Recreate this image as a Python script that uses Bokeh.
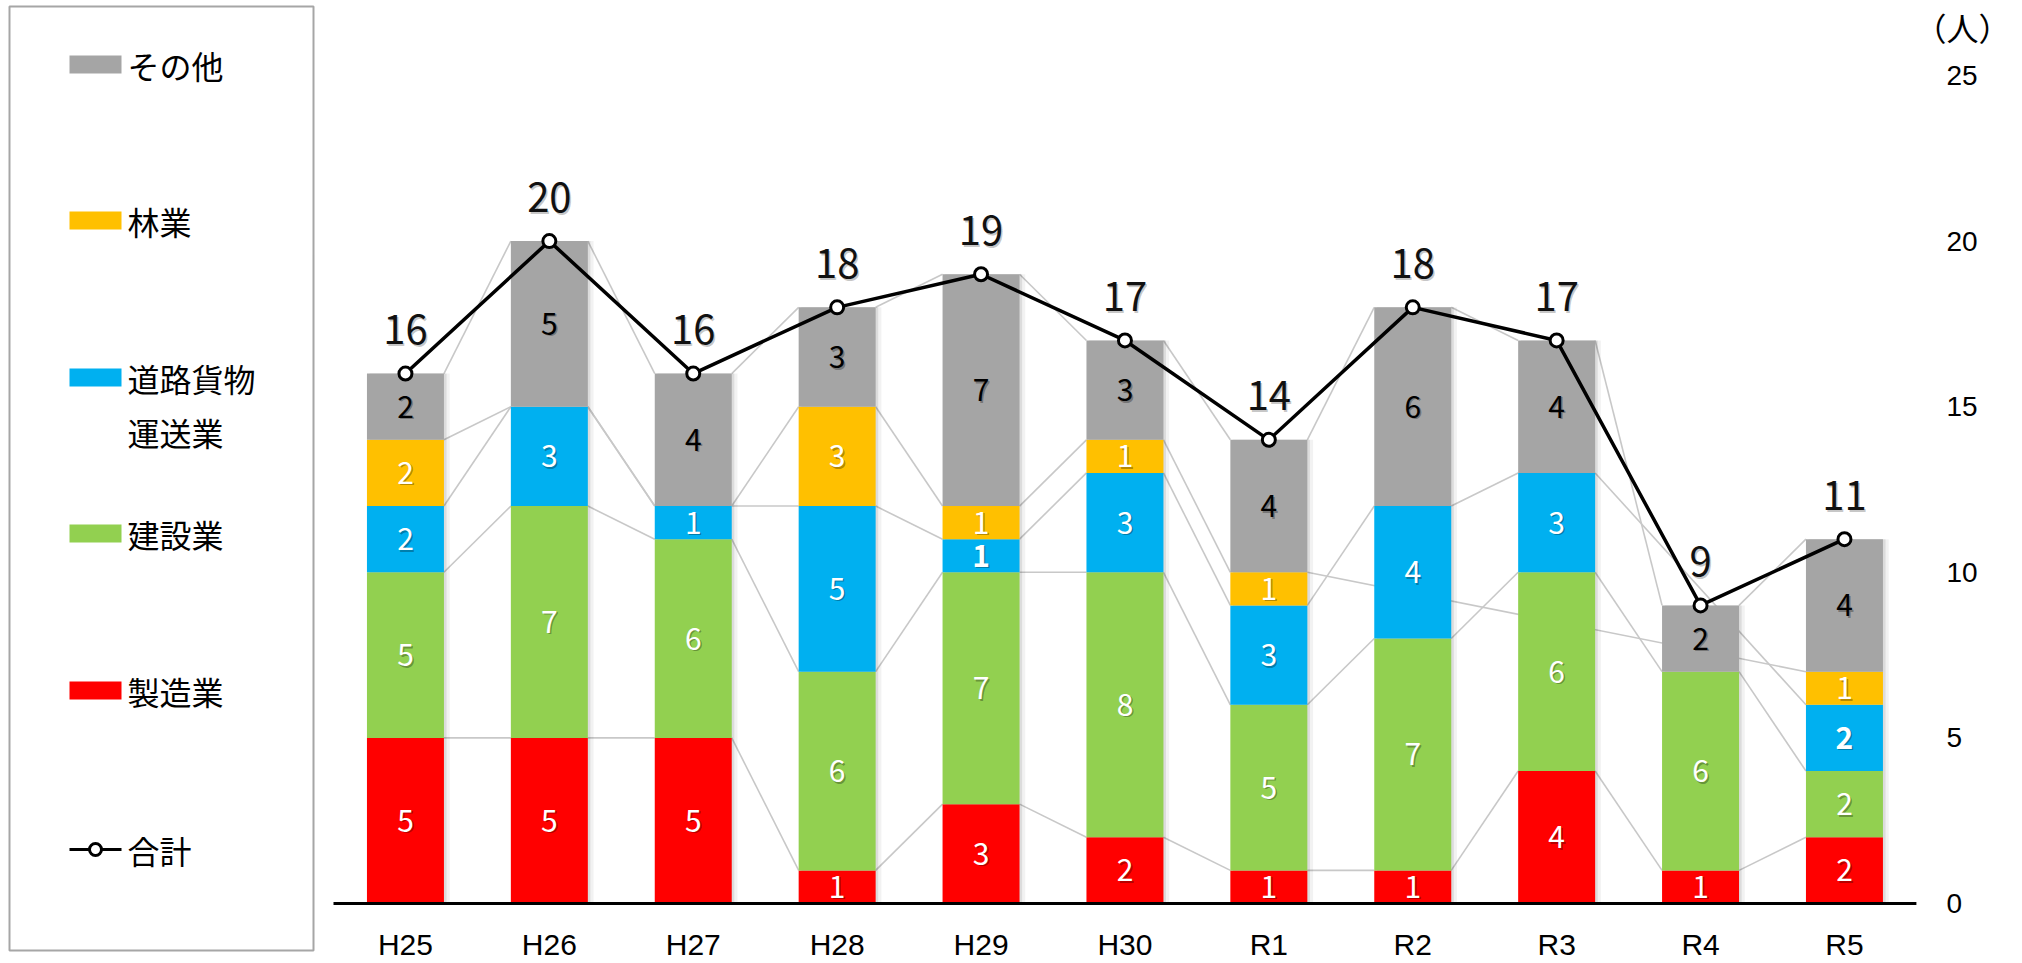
from bokeh.plotting import figure
from bokeh.models import ColumnDataSource, Range1d
from bokeh.embed import file_html
from bokeh.resources import INLINE
from bokeh.core.properties import value

# ---------------- data ----------------
categories = ["H25", "H26", "H27", "H28", "H29", "H30", "R1", "R2", "R3", "R4", "R5"]
manufacturing = [5, 5, 5, 1, 3, 2, 1, 1, 4, 1, 2]            # 製造業
construction = [5, 7, 6, 6, 7, 8, 5, 7, 6, 6, 2]             # 建設業
road_freight = [2, 3, 1, 5, 1, 3, 3, 4, 3, None, 2]          # 道路貨物運送業
forestry = [2, 0, 0, 3, 1, 1, 1, None, None, None, 1]        # 林業
other = [2, 5, 4, 3, 7, 3, 4, 6, 4, 2, 4]                    # その他
totals = [16, 20, 16, 18, 19, 17, 14, 18, 17, 9, 11]         # 合計
ytick_values = [0, 5, 10, 15, 20, 25]
unit_label = "（人）"

series_names = ["製造業", "建設業", "道路貨物運送業", "林業", "その他"]
series_values = [manufacturing, construction, road_freight, forestry, other]
series_colors = ["#ff0000", "#92d050", "#00b0f0", "#ffc000", "#a5a5a5"]
label_colors = ["white", "white", "white", "white", "black"]
total_name = "合計"

FONT = "Noto Sans CJK JP"
LATIN = "Liberation Sans"
W = 0.535            # bar width (fraction of a category slot)
FIG_W, FIG_H = 2022, 963
X0_PX, SLOT_PX = 333, 143.9        # left edge of plotting area, width of one category
Y0_PX, UNIT_PX = 903, 33.12        # baseline pixel row, pixels per person

n = len(categories)
xc = [i + 0.5 for i in range(n)]

# ---------------- stacking ----------------
cum = [0] * n
rects = dict(x=[], bottom=[], top=[], color=[])
labs = dict(x=[], y=[], text=[], color=[], style=[])
series_tops = []
for s, vals in enumerate(series_values):
    tops = []
    for i, v in enumerate(vals):
        v0 = v or 0
        b = cum[i]
        t = b + v0
        if v0 > 0:
            rects["x"].append(xc[i]); rects["bottom"].append(b)
            rects["top"].append(t); rects["color"].append(series_colors[s])
            labs["x"].append(xc[i]); labs["y"].append((b + t) / 2)
            labs["text"].append(str(v0)); labs["color"].append(label_colors[s])
            bold = (s == 2 and categories[i] in ("H29", "R5"))
            labs["style"].append("bold" if bold else "normal")
        cum[i] = t
        tops.append(t)
    series_tops.append(tops)

# series lines (connect tops of each series between neighbouring bars, skipping blanks)
seg = dict(x0=[], y0=[], x1=[], y1=[])
for s, vals in enumerate(series_values):
    valid = [i for i, v in enumerate(vals) if v is not None]
    for a, b in zip(valid[:-1], valid[1:]):
        seg["x0"].append(xc[a] + W / 2); seg["y0"].append(series_tops[s][a])
        seg["x1"].append(xc[b] - W / 2); seg["y1"].append(series_tops[s][b])

# ---------------- figure ----------------
x_start = -X0_PX / SLOT_PX
x_end = (FIG_W - X0_PX) / SLOT_PX
y_start = -(FIG_H - Y0_PX) / UNIT_PX
y_end = Y0_PX / UNIT_PX

p = figure(width=FIG_W, height=FIG_H,
           x_range=Range1d(x_start, x_end), y_range=Range1d(y_start, y_end),
           x_axis_location=None, y_axis_location=None, min_border=0,
           output_backend="svg", toolbar_location=None,
           background_fill_color="white", border_fill_color="white")
p.title = None
p.outline_line_color = None
p.grid.grid_line_color = None
p.extra_x_ranges = {"px": Range1d(0, FIG_W)}
p.extra_y_ranges = {"py": Range1d(FIG_H, 0)}

# series lines
p.segment(x0="x0", y0="y0", x1="x1", y1="y1", source=ColumnDataSource(seg),
          line_color="#c8c8c8", line_width=1.6)

# soft bar shadows
tot_src = ColumnDataSource(dict(x=xc, top=totals, text=[str(t) for t in totals]))
p.vbar(x=[x + 0.03 for x in xc], top=totals, bottom=0, width=W + 0.02,
       fill_color="black", fill_alpha=0.05, line_color=None)
p.vbar(x=[x + 0.018 for x in xc], top=totals, bottom=0, width=W, fill_color="black",
       fill_alpha=0.09, line_color=None)

# stacked bars
p.vbar(x="x", bottom="bottom", top="top", width=W, fill_color="color", line_color=None,
       source=ColumnDataSource(rects))

# segment labels
lab_src = ColumnDataSource(labs)
p.text(x="x", y="y", text="text", source=lab_src, x_offset=1.5, y_offset=1.5,
       text_color="black", text_alpha=0.3, text_font=value(FONT), text_font_size="30px",
       text_font_style="style", text_align="center", text_baseline="middle")
p.text(x="x", y="y", text="text", source=lab_src, text_color="color",
       text_font=value(FONT), text_font_size="30px", text_font_style="style",
       text_align="center", text_baseline="middle")

# baseline (category axis line)
p.segment(x0=[0], y0=[0], x1=[n], y1=[0], line_color="black", line_width=3)

# total line
p.line(x="x", y="top", source=tot_src, line_color="black", line_width=3.5)
p.scatter(x="x", y="top", source=tot_src, marker="circle", size=13,
          fill_color="white", line_color="black", line_width=3)
p.text(x="x", y="top", text="text", source=tot_src, y_offset=-42, x_offset=1.5,
       text_color="black", text_alpha=0.22, text_font=value(FONT), text_font_size="40px",
       text_align="center", text_baseline="middle")
p.text(x="x", y="top", text="text", source=tot_src, y_offset=-44,
       text_color="#111111", text_font=value(FONT), text_font_size="40px",
       text_align="center", text_baseline="middle")

# category tick labels
p.text(x=xc, y=[0] * n, text=categories, y_offset=41, text_font=value(LATIN),
       text_font_size="30px", text_color="black", text_align="center",
       text_baseline="middle")

# value axis tick labels (right)
p.text(x=[n] * len(ytick_values), y=ytick_values, text=[str(v) for v in ytick_values],
       x_offset=30, text_font=value(LATIN), text_font_size="28px", text_color="black",
       text_align="left", text_baseline="middle")
p.text(x=[n], y=[ytick_values[-1]], text=[unit_label], x_offset=46, y_offset=-49,
       text_font=value(FONT), text_font_size="32px", text_color="black",
       text_align="center", text_baseline="middle")

# ---------------- legend panel (pixel coordinates) ----------------
p.quad(left=[9], right=[313], top=[6], bottom=[950], fill_color=None,
       line_color="#a6a6a6", line_width=2, x_range_name="px", y_range_name="py")

order = [4, 3, 2, 1, 0]
ys = [64, 220, 377, 533, 690]
sw = dict(left=[], right=[], top=[], bottom=[], color=[])
tx = dict(x=[], y=[], text=[])
for k, s in enumerate(order):
    y = ys[k]
    sw["left"].append(69); sw["right"].append(121)
    sw["top"].append(y - 9); sw["bottom"].append(y + 9); sw["color"].append(series_colors[s])
    name = series_names[s]
    if len(name) > 4:
        tx["x"] += [127, 127]; tx["y"] += [y, y + 54]; tx["text"] += [name[:4], name[4:]]
    else:
        tx["x"].append(127); tx["y"].append(y); tx["text"].append(name)
tx["x"].append(127); tx["y"].append(849); tx["text"].append(total_name)
p.quad(left="left", right="right", top="top", bottom="bottom", fill_color="color",
       line_color=None, source=ColumnDataSource(sw), x_range_name="px", y_range_name="py")
p.text(x="x", y="y", text="text", source=ColumnDataSource(tx), text_font=value(FONT),
       text_font_size="32px", text_color="black", text_baseline="middle", text_align="left",
       x_range_name="px", y_range_name="py")
p.line(x=[69, 121], y=[849, 849], line_color="black", line_width=3,
       x_range_name="px", y_range_name="py")
p.scatter(x=[95], y=[849], marker="circle", size=12, fill_color="white",
          line_color="black", line_width=3, x_range_name="px", y_range_name="py")

open("out.html", "w").write(file_html(p, INLINE))
